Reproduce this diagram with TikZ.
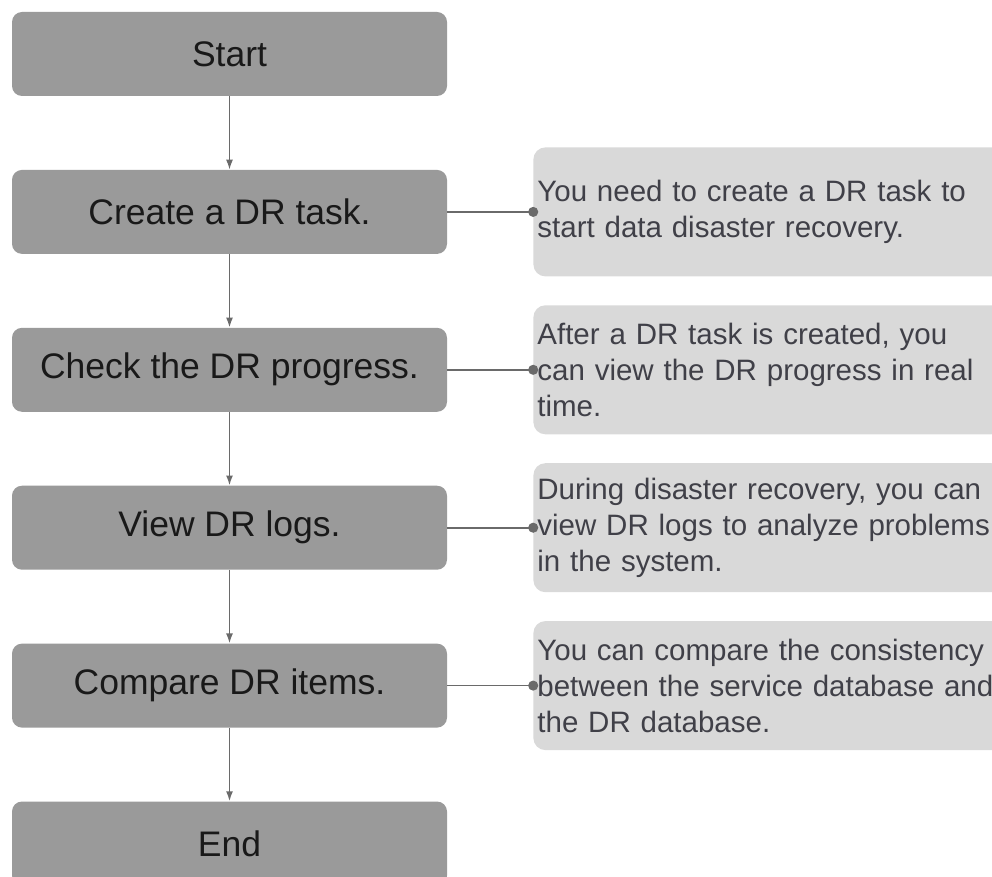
\documentclass[tikz,border=0pt]{standalone}
\usepackage{fontspec}
\setmainfont{Liberation Sans}
\usetikzlibrary{arrows.meta,positioning}
\definecolor{stepgray}{HTML}{9A9A9A}
\definecolor{notegray}{HTML}{D9D9D9}
\definecolor{linegray}{HTML}{6A6A6A}
\definecolor{notetext}{HTML}{404048}

\begin{document}
\begin{tikzpicture}[
  x=1pt, y=1pt,
  node distance=73.5pt and 86pt,
  stepbox/.style={fill=stepgray, rounded corners=10pt, minimum width=435pt, minimum height=84pt, inner sep=4pt, align=center, font=\fontsize{35.5}{40}\selectfont, text=black!90},
  note/.style={fill=notegray, rounded corners=12pt, text width=462pt, minimum height=129pt, inner sep=4pt, align=left, font=\fontsize{29.5}{36}\selectfont, text=notetext},
  arrow/.style={-{Latex[length=10pt, width=7pt]}, line width=1.6pt, draw=linegray},
  link/.style={-{Circle[length=10pt]}, shorten >=-5pt, line width=1.6pt, draw=linegray},
]
  \useasboundingbox (0,0) rectangle (992,-877);

  \node[stepbox] (start) at (229.5,-54) {Start};
  \node[stepbox, below=of start] (create) {Create a DR task.};
  \node[stepbox, below=of create] (progress) {Check the DR progress.};
  \node[stepbox, below=of progress] (logs) {View DR logs.};
  \node[stepbox, below=of logs] (compare) {Compare DR items.};
  \node[stepbox, below=of compare] (end) {End};

  \draw[arrow] (start) -- (create);
  \draw[arrow] (create) -- (progress);
  \draw[arrow] (progress) -- (logs);
  \draw[arrow] (logs) -- (compare);
  \draw[arrow] (compare) -- (end);

  % notes on the right
  \node[note, right=of create] (createnote) {You need to create a DR task to\\start data disaster recovery.};
  \node[note, right=of progress] (progressnote) {After a DR task is created, you\\can view the DR progress in real\\time.};
  \node[note, right=of logs] (logsnote) {During disaster recovery, you can\\view DR logs to analyze problems\\in the system.};
  \node[note, right=of compare] (comparenote) {You can compare the consistency\\between the service database and\\the DR database.};

  \draw[link] (create) -- (createnote);
  \draw[link] (progress) -- (progressnote);
  \draw[link] (logs) -- (logsnote);
  \draw[link] (compare) -- (comparenote);
\end{tikzpicture}
\end{document}
